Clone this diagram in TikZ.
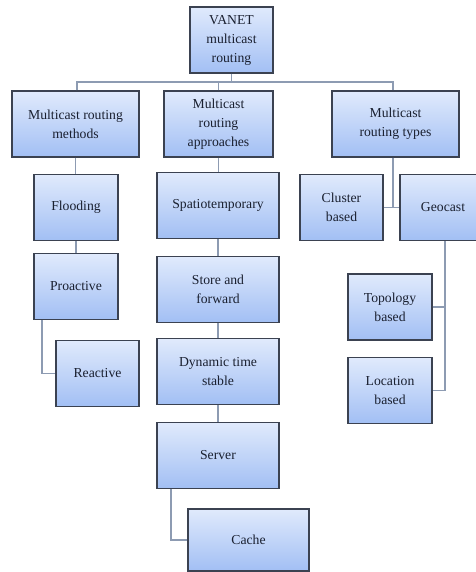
\documentclass[tikz,border=0pt]{standalone}
\usepackage{fontspec}
\setmainfont{Liberation Serif}
\tikzset{
	box/.style={draw=boxline, line width=1.1pt, top color=boxtop, bottom color=boxbot,
		align=center, inner sep=2pt, minimum height=66pt,
		font=\fontsize{13.7}{19}\selectfont, text=textcol},
	link/.style={draw=linkcol, line width=1.2pt}
}
\definecolor{boxtop}{HTML}{E0EAFC}
\definecolor{boxbot}{HTML}{A2BFF4}
\definecolor{boxline}{HTML}{3B4251}
\definecolor{linkcol}{HTML}{8D9BB2}
\definecolor{textcol}{HTML}{1A2030}
\begin{document}
\begin{tikzpicture}[x=1pt, y=-1pt]
	\useasboundingbox (0,0) rectangle (475,572);

	\node[box, minimum width=83pt] (vanet) at (231.5, 40) {VANET\\multicast\\routing};

	\node[box, minimum width=127pt] (methods) at (75.5, 124) {Multicast routing\\methods};
	\node[box, minimum width=109pt] (approaches) at (218.5, 124) {Multicast\\routing\\approaches};
	\node[box, minimum width=127pt] (types) at (395.5, 124) {Multicast\\routing types};

	\node[box, minimum width=84pt] (flooding) at (76, 207.5) {Flooding};
	\node[box, minimum width=84pt] (proactive) at (76, 286.5) {Proactive};
	\node[box, minimum width=83pt] (reactive) at (97.5, 373.5) {Reactive};

	\node[box, minimum width=122pt] (spatio) at (218, 205.5) {Spatiotemporary};
	\node[box, minimum width=122pt] (store) at (218, 289.5) {Store and\\forward};
	\node[box, minimum width=122pt] (dynamic) at (218, 371.5) {Dynamic time\\stable};
	\node[box, minimum width=122pt] (server) at (218, 455.5) {Server};
	\node[box, minimum width=121pt, minimum height=62pt] (cache) at (248.5, 540) {Cache};

	\node[box, minimum width=83pt] (cluster) at (341.5, 207.5) {Cluster\\based};
	\node[box, minimum width=86pt] (geocast) at (443, 207.5) {Geocast};
	\node[box, minimum width=84pt] (topology) at (390, 307) {Topology\\based};
	\node[box, minimum width=84pt] (location) at (390, 390.5) {Location\\based};

	\coordinate (bus) at (231.5, 82);
	\coordinate (tj) at (393, 207.5);
	\coordinate (gj) at (445, 241);

	\path[link] (vanet.south) -- (bus);
	\path[link] ([xshift=1.5pt]methods.north) |- (bus) -| ([xshift=-2.5pt]types.north);
	\path[link] (approaches.north) -- (approaches.north |- bus);

	\foreach \i / \j in {methods/flooding, flooding/proactive}
	{
		\path[link] (\i.south) -- (\i.south |- \j.north);
	};
	\foreach \i / \j in {approaches/spatio, spatio/store, store/dynamic, dynamic/server}
	{
		\path[link] (\i.south) -- (\i.south |- \j.north);
	};

	\path[link] ([xshift=-34pt]proactive.south) |- (reactive.west);
	\path[link] ([xshift=-47pt]server.south) |- (cache.west);

	\path[link] ([xshift=-2.5pt]types.south) -- (tj);
	\path[link] (cluster.east) -- (geocast.west);
	\path[link] (gj) |- (location.east);
	\path[link] (topology.east) -- (topology.east -| gj);
\end{tikzpicture}
\end{document}
